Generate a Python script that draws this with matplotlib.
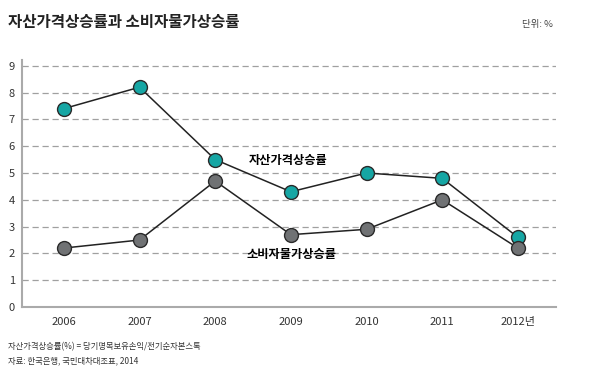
import matplotlib.pyplot as plt

plt.rcParams['font.family'] = ['Noto Sans CJK KR', 'DejaVu Sans']

years = [2006, 2007, 2008, 2009, 2010, 2011, 2012]
year_labels = ['2006', '2007', '2008', '2009', '2010', '2011', '2012년']
asset = [7.4, 8.2, 5.5, 4.3, 5.0, 4.8, 2.6]
cpi = [2.2, 2.5, 4.7, 2.7, 2.9, 4.0, 2.2]

fig = plt.figure(figsize=(5.9, 3.74), dpi=100)
ax = fig.add_axes([0.037, 0.179, 0.905, 0.661])

# dashed grid
for v in range(1, 10):
    ax.axhline(v, color='#a0a0a0', lw=0.9, ls=(0, (5, 3)), zorder=1)

ax.plot(years, asset, color='#222222', lw=1.1, marker='o', markersize=10,
        markerfacecolor='#16a6a4', markeredgecolor='#2a2a2a', markeredgewidth=1.0, zorder=3)
ax.plot(years, cpi, color='#222222', lw=1.1, marker='o', markersize=10,
        markerfacecolor='#707274', markeredgecolor='#2a2a2a', markeredgewidth=1.0, zorder=3)

ax.text(2008.45, 5.45, '자산가격상승률', fontsize=8.8, fontweight='bold', va='center', ha='left')
ax.text(2008.41, 1.95, '소비자물가상승률', fontsize=8.8, fontweight='bold', va='center', ha='left')

ax.set_xlim(2006 - 0.555, 2012.5)
ax.set_ylim(0, 9.22)
ax.set_xticks(years)
ax.set_xticklabels(year_labels)
ax.set_yticks(range(0, 10))
ax.tick_params(length=0, labelsize=8, colors='#333333')
ax.tick_params(axis='y', pad=5)
ax.tick_params(axis='x', pad=7)
for s in ['top', 'right']:
    ax.spines[s].set_visible(False)
for s in ['left', 'bottom']:
    ax.spines[s].set_color('#aaaaaa')
    ax.spines[s].set_linewidth(1.5)

fig.text(8 / 590, 1 - 22 / 374, '자산가격상승률과 소비자물가상승률', fontsize=11.2,
         fontweight='bold', va='center', ha='left', color='#222222')
fig.text(553 / 590, 1 - 25 / 374, '단위: %', fontsize=6.8, va='center', ha='right', color='#444444')
fig.text(8 / 590, 1 - 347 / 374, '자산가격상승률(%) = 당기명목보유손익/전기순자본스톡', fontsize=6,
         va='center', ha='left', color='#333333')
fig.text(8 / 590, 1 - 361 / 374, '자료: 한국은행, 국민대차대조표, 2014', fontsize=6,
         va='center', ha='left', color='#333333')

fig.savefig('out.png', dpi=100)
